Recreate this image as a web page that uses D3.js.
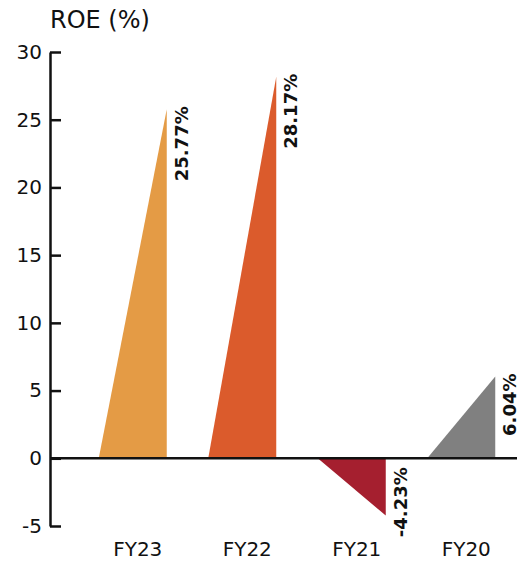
<!DOCTYPE html>
<html>
<head>
<meta charset="utf-8">
<script src="https://cdn.jsdelivr.net/npm/d3@7"></script>
<style>
  html, body { margin: 0; padding: 0; background: #fff; overflow: hidden; }
  svg { display: block; font-family: "DejaVu Sans", "Open Sans", sans-serif; }
</style>
</head>
<body>
<svg id="chart" width="517" height="561"></svg>
<script>
// Return on equity by fiscal year
const years = ["FY23", "FY22", "FY21", "FY20"];
const roe = [25.77, 28.17, -4.23, 6.04];
const colors = ["#E49B45", "#DB5B2C", "#A51F2F", "#808080"];
const yTicks = [-5, 0, 5, 10, 15, 20, 25, 30];

const svg = d3.select("#chart");
const axisX = 50;

const y = d3.scaleLinear().domain([-5, 30]).range([526, 52]);
const x = d3.scaleBand().domain(years).range([84, 522]);

// Title
svg.append("text")
  .attr("x", 50).attr("y", 28)
  .attr("font-size", 24).attr("font-weight", 400)
  .attr("fill", "#111")
  .text("ROE (%)");

// Right-angled wedges: slope rises from the left, vertical edge on the right
const triW = 68;
const rightEdge = d => x(d) + x.bandwidth() / 2 + 28;

svg.append("g").selectAll("path")
  .data(years)
  .join("path")
  .attr("fill", (d, i) => colors[i])
  .attr("d", (d, i) => {
    const r = rightEdge(d), l = r - triW;
    return `M${l},${y(0)}L${r},${y(0)}L${r},${y(roe[i])}Z`;
  });

// Zero line
svg.append("line")
  .attr("x1", axisX).attr("x2", 517)
  .attr("y1", y(0)).attr("y2", y(0))
  .attr("stroke", "#111").attr("stroke-width", 2.5);

// Y axis with ticks pointing into the plot
const yAxis = svg.append("g")
  .attr("transform", `translate(${axisX},0)`)
  .call(d3.axisLeft(y).tickValues(yTicks).tickFormat(d => String(d))
    .tickSizeInner(-11).tickSizeOuter(0).tickPadding(8));
yAxis.select(".domain").attr("stroke", "#111").attr("stroke-width", 2.5);
yAxis.selectAll(".tick line").attr("stroke", "#111").attr("stroke-width", 2.5);
yAxis.selectAll(".tick text")
  .attr("font-size", 20).attr("fill", "#111")
  .attr("font-family", "'DejaVu Sans', sans-serif");

// Category labels
svg.append("g").selectAll("text")
  .data(years)
  .join("text")
  .attr("x", d => x(d) + x.bandwidth() / 2 - 1)
  .attr("y", 556)
  .attr("text-anchor", "middle")
  .attr("font-size", 20).attr("fill", "#111")
  .text(d => d);

// Value labels, rotated, beside each wedge's vertical edge
svg.append("g").selectAll("text")
  .data(years)
  .join("text")
  .attr("transform", (d, i) => {
    const tx = rightEdge(d) + 21;
    const ty = roe[i] >= 0 ? y(roe[i]) - 3 : y(0) + 9;
    return `translate(${tx},${ty}) rotate(-90)`;
  })
  .attr("text-anchor", "end")
  .attr("font-size", 18).attr("font-weight", 700).attr("fill", "#111")
  .text((d, i) => roe[i].toFixed(2) + "%");
</script>
</body>
</html>
